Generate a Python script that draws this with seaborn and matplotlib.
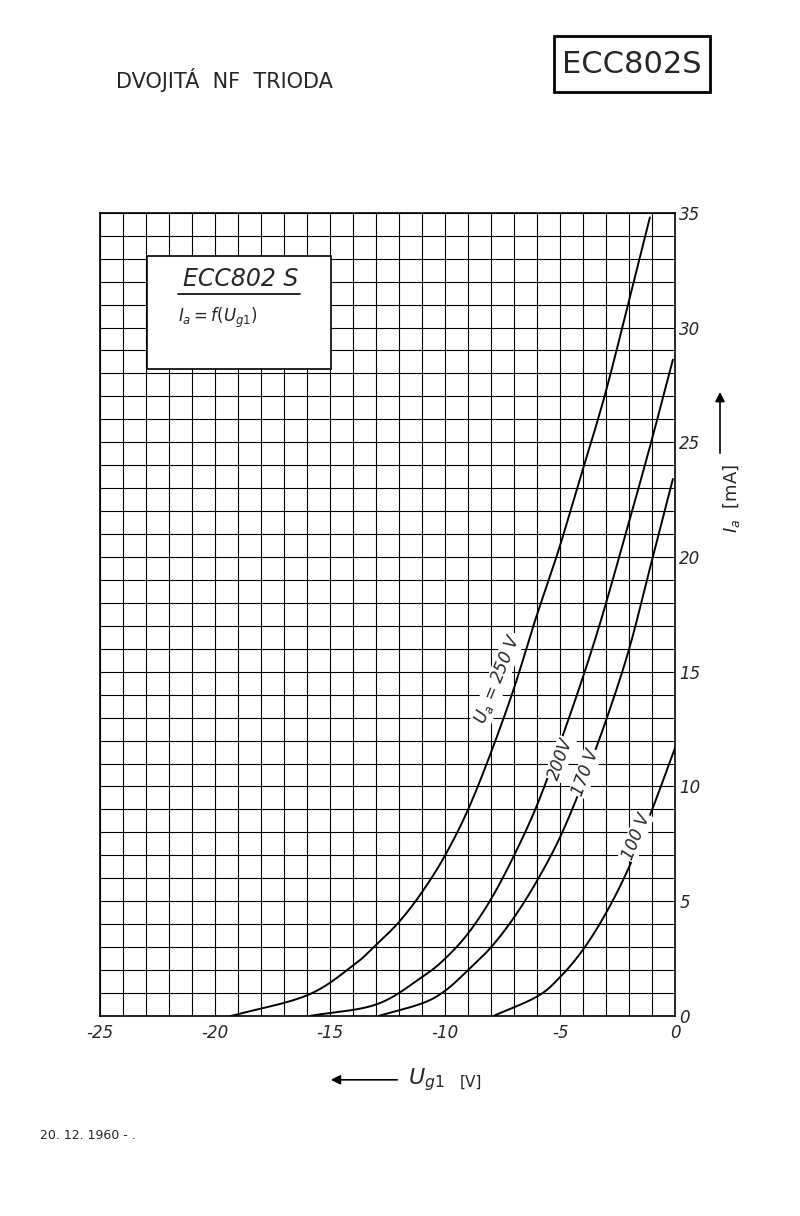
import matplotlib
matplotlib.use("Agg")
import matplotlib.pyplot as plt
import seaborn as sns
import numpy as np
import pandas as pd
from matplotlib.patches import Rectangle

sns.set_theme(style="white")
plt.rcParams['font.family'] = ['DejaVu Sans']

ug_250 = [-19.3, -16, -14, -13, -12, -11, -10, -9, -8, -7, -6.1, -5.1, -4.2, -3.1, -2.1, -1.1]
ia_250 = [0, 0.9, 2.2, 3.1, 4.1, 5.4, 7.0, 9.0, 11.5, 14.3, 17.2, 20.2, 23.2, 26.9, 30.8, 34.8]
ug_200 = [-15.9, -13, -11, -10, -9, -8, -7, -6, -5, -4, -3.15, -2.1, -1.1, -0.1]
ia_200 = [0, 0.5, 1.7, 2.5, 3.6, 5.1, 7.0, 9.2, 11.9, 14.8, 17.5, 21.2, 24.8, 28.6]
ug_170 = [-12.9, -11, -10, -9, -8, -7, -6, -5, -4, -3, -2, -1.05, -0.1]
ia_170 = [0, 0.55, 1.1, 2.0, 3.0, 4.3, 5.9, 7.8, 10.2, 12.9, 16.0, 19.7, 23.4]
ug_100 = [-7.9, -6, -5, -4, -3, -2, -1, 0]
ia_100 = [0, 0.85, 1.7, 2.9, 4.5, 6.5, 9.0, 11.7]

series = [("250", ug_250, ia_250), ("200", ug_200, ia_200),
          ("170", ug_170, ia_170), ("100", ug_100, ia_100)]
x_ticks = [-25, -20, -15, -10, -5, 0]
x_labels = ["-25", "-20", "-15", "-10", "-5", "0"]
y_ticks = [0, 5, 10, 15, 20, 25, 30, 35]


def smooth(xs, ys, n=12):
    # Catmull-Rom rendering through the read points
    p = np.column_stack([xs, ys]).astype(float)
    p = np.vstack([2 * p[0] - p[1], p, 2 * p[-1] - p[-2]])
    out = []
    t = np.linspace(0, 1, n, endpoint=False)[:, None]
    for i in range(1, len(p) - 2):
        p0, p1, p2, p3 = p[i - 1], p[i], p[i + 1], p[i + 2]
        seg = 0.5 * ((2 * p1) + (-p0 + p2) * t + (2 * p0 - 5 * p1 + 4 * p2 - p3) * t ** 2
                     + (-p0 + 3 * p1 - 3 * p2 + p3) * t ** 3)
        out.append(seg)
    out.append(p[-2][None, :])
    a = np.vstack(out)
    a[:, 1] = np.maximum(a[:, 1], 0)
    return a


rows = []
for name, xs, ys in series:
    for x, y in smooth(xs, ys):
        rows.append({"Ua": name, "Ug": x, "Ia": y})
df = pd.DataFrame(rows)

fig = plt.figure(figsize=(8, 12.16), dpi=100)
ax = fig.add_axes([0.125, 0.1645, 0.719, 0.6605])
sns.lineplot(data=df, x="Ug", y="Ia", hue="Ua", palette=["black"] * 4,
             legend=False, ax=ax, linewidth=1.4, sort=False, estimator=None)
ax.set_xlim(-25, 0)
ax.set_ylim(0, 35)
ax.set_xticks(np.arange(-25, 1, 1), minor=True)
ax.set_yticks(np.arange(0, 36, 1), minor=True)
ax.grid(True, which="both", color="black", linewidth=0.8)
ax.set_xticks(x_ticks)
ax.set_xticklabels(x_labels, fontsize=12, style="italic")
ax.yaxis.tick_right()
ax.set_yticks(y_ticks)
ax.set_yticklabels([str(v) for v in y_ticks], fontsize=12, style="italic")
ax.tick_params(which="both", length=0)
ax.tick_params(axis="x", pad=6)
ax.tick_params(axis="y", pad=3)
ax.set_xlabel(""); ax.set_ylabel("")
for s in ax.spines.values():
    s.set_color("black"); s.set_linewidth(1.2)

# curve labels
ax.text(-7.7, 14.7, r"$U_a$ = 250 V", rotation=68, fontsize=12, ha="center", va="center",
        style="italic", bbox=dict(facecolor="white", edgecolor="none", pad=0.5))
ax.text(-5.0, 11.2, "200V", rotation=70, fontsize=12, ha="center", va="center",
        style="italic", bbox=dict(facecolor="white", edgecolor="none", pad=0.5))
ax.text(-3.9, 10.6, "170 V", rotation=70, fontsize=12, ha="center", va="center",
        style="italic", bbox=dict(facecolor="white", edgecolor="none", pad=0.5))
ax.text(-1.7, 7.8, "100 V", rotation=68, fontsize=12, ha="center", va="center",
        style="italic", bbox=dict(facecolor="white", edgecolor="none", pad=0.5))

# inset box
ax.add_patch(Rectangle((-22.95, 28.2), 8.0, 4.9, facecolor="white", edgecolor="black",
                       linewidth=1.2, zorder=5))
ax.text(-18.9, 32.1, "ECC802 S", fontsize=17, style="italic", ha="center", va="center", zorder=6)
ax.plot([-21.6, -16.3], [31.45, 31.45], color="black", lw=1.2, zorder=6)
ax.text(-21.6, 30.4, r"$I_a = f(U_{g1})$", fontsize=12, ha="left", va="center", zorder=6)

# page texts
fig.text(0.145, 0.934, "DVOJITÁ  NF  TRIODA", fontsize=15, ha="left", va="center")
fig.patches.append(Rectangle((0.692, 0.924), 0.196, 0.046, transform=fig.transFigure,
                             facecolor="white", edgecolor="black", linewidth=2))
fig.text(0.79, 0.947, "ECC802S", fontsize=22, ha="center", va="center")
fig.text(0.915, 0.59, r"$I_a$  [mA]", rotation=90, fontsize=13, ha="center", va="center")
fig.add_artist(matplotlib.patches.FancyArrowPatch((0.9, 0.625), (0.9, 0.68),
               transform=fig.transFigure, arrowstyle="-|>", mutation_scale=14, color="black", lw=1.2))
fig.add_artist(matplotlib.patches.FancyArrowPatch((0.5, 0.112), (0.41, 0.112),
               transform=fig.transFigure, arrowstyle="-|>", mutation_scale=14, color="black", lw=1.2))
fig.text(0.51, 0.112, r"$U_{g1}$", fontsize=16, ha="left", va="center")
fig.text(0.575, 0.11, "[V]", fontsize=11, ha="left", va="center")
fig.text(0.05, 0.066, "20. 12. 1960 - .", fontsize=9, ha="left", va="center")

fig.savefig("out.png", dpi=100, facecolor="white")
